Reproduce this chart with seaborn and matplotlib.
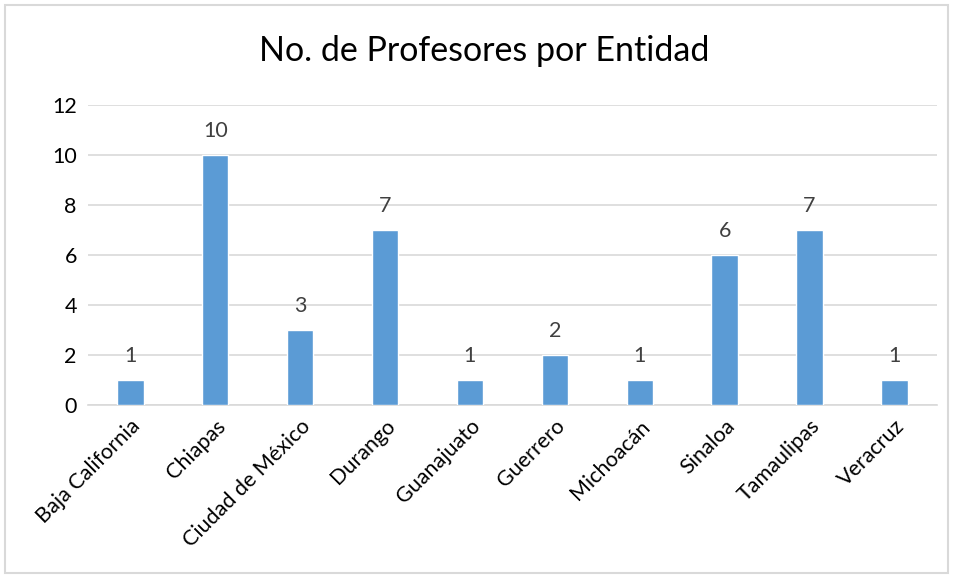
import seaborn as sns
import matplotlib.pyplot as plt
import pandas as pd
from matplotlib.patches import Rectangle

entidades = [
    "Baja California", "Chiapas", "Ciudad de México", "Durango", "Guanajuato",
    "Guerrero", "Michoacán", "Sinaloa", "Tamaulipas", "Veracruz",
]
profesores = [1, 10, 3, 7, 1, 2, 1, 6, 7, 1]
y_ticks = [0, 2, 4, 6, 8, 10, 12]
titulo = "No. de Profesores por Entidad"

sns.set_style("white")
plt.rcParams["font.family"] = ["Lato", "DejaVu Sans"]

df = pd.DataFrame({"entidad": entidades, "profesores": profesores})

fig = plt.figure(figsize=(9.54, 5.78), dpi=100)
ax = fig.add_axes([0.0922, 0.2993, 0.8898, 0.519])

sns.barplot(data=df, x="entidad", y="profesores", color="#5B9BD5",
            saturation=1, width=0.31, ax=ax, zorder=3)

ax.set_ylim(0, 12)
ax.set_yticks(y_ticks)
ax.set_xlim(-0.5, len(entidades) - 0.5)
ax.grid(axis="y", color="#D9D9D9", linewidth=1.2, zorder=0)
for s in ["top", "right", "left"]:
    ax.spines[s].set_visible(False)
ax.spines["bottom"].set_color("#D9D9D9")
ax.spines["bottom"].set_linewidth(1.2)
ax.tick_params(axis="both", length=0, labelsize=15.5, colors="#000000", pad=8)
ax.set_xticks(range(len(entidades)))
ax.set_xticklabels(entidades, rotation=45, ha="right", rotation_mode="anchor")
ax.set_xlabel("")
ax.set_ylabel("")

for c in ax.containers:
    ax.bar_label(c, fontsize=15.5, color="#404040", padding=10)

fig.suptitle(titulo, x=0.508, y=0.94, fontsize=24.5, color="#000000")

fig.patches.append(Rectangle((0.005, 0.009), 0.989, 0.982, transform=fig.transFigure,
                             fill=False, edgecolor="#D9D9D9", linewidth=1.5))

fig.savefig("out.png", dpi=100)
